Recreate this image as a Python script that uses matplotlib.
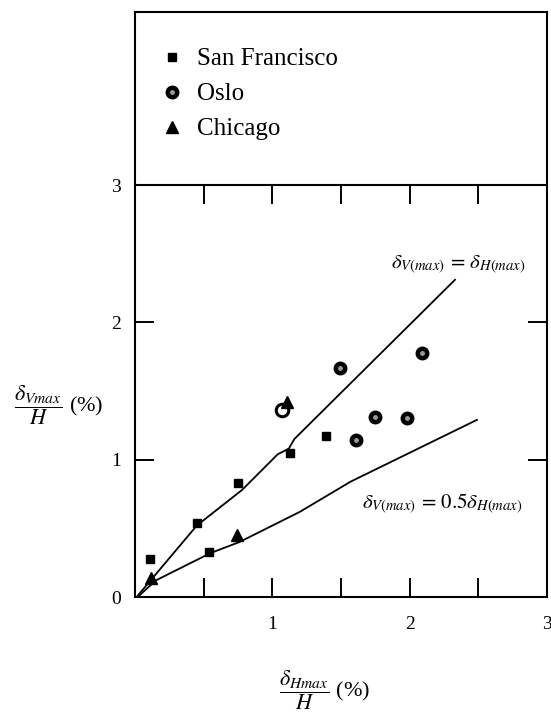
import matplotlib
matplotlib.use("Agg")
import matplotlib.pyplot as plt
from matplotlib.legend_handler import HandlerTuple

plt.rcParams['font.family'] = ['Liberation Serif', 'DejaVu Serif']
plt.rcParams['mathtext.fontset'] = 'stix'

# datos (% de H)
sf_x = [0.11, 0.45, 0.54, 0.75, 1.13, 1.39]
sf_y = [0.28, 0.54, 0.33, 0.83, 1.05, 1.17]

oslo_x = [1.49, 2.09, 1.75, 1.98, 1.61]
oslo_y = [1.67, 1.78, 1.31, 1.30, 1.14]
oslo_open_x = [1.07]
oslo_open_y = [1.36]

chi_x = [1.11, 0.74, 0.12]
chi_y = [1.42, 0.45, 0.14]

# retas desenhadas a mao
sup_x = [0.02, 0.45, 0.78, 1.04, 1.12, 1.16, 2.33]
sup_y = [0.01, 0.52, 0.78, 1.04, 1.08, 1.15, 2.31]
inf_x = [0.02, 0.15, 0.55, 0.76, 1.20, 1.57, 2.49]
inf_y = [0.00, 0.12, 0.32, 0.40, 0.62, 0.84, 1.29]

ticks_menores = [0.5, 1.0, 1.5, 2.0, 2.5]

fig = plt.figure(figsize=(5.51, 7.12), dpi=100)
ax = fig.add_axes([135 / 551, 115 / 712, 412 / 551, 585 / 712])
ax.set_xlim(0, 3)
ax.set_ylim(0, 4.26)
ax.xaxis.remove_overlapping_locs = False
ax.yaxis.remove_overlapping_locs = False

for s in ax.spines.values():
    s.set_linewidth(1.5)

# linha que separa a legenda
ax.axhline(3, color='black', lw=1.5)
ax.vlines(ticks_menores, 3 - 0.14, 3, color='black', lw=1.4)

ax.plot(sup_x, sup_y, color='black', lw=1.3)
ax.plot(inf_x, inf_y, color='black', lw=1.3)

h_sf, = ax.plot(sf_x, sf_y, 's', color='black', ms=5.5, ls='none')
h_oslo, = ax.plot(oslo_x, oslo_y, 'o', color='black', ms=9, ls='none')
h_dot, = ax.plot(oslo_x, oslo_y, 'o', color='#999999', ms=2.5, ls='none')
ax.plot(oslo_open_x, oslo_open_y, 'o', mfc='white', mec='black', mew=2.2, ms=9, ls='none')
h_chi, = ax.plot(chi_x, chi_y, '^', color='black', ms=8, ls='none')

ax.set_xticks([1, 2, 3])
ax.set_xticklabels(['1', '2', '3'])
ax.set_xticks(ticks_menores, minor=True)
ax.set_yticks([0, 1, 2, 3])
ax.set_yticklabels(['0', '1', '2', '3'])
ax.set_yticks([1, 2], minor=True)
ax.tick_params(which='major', length=0, labelsize=14)
ax.tick_params(axis='x', which='major', pad=14)
ax.tick_params(axis='y', which='major', pad=10)
ax.tick_params(axis='x', which='minor', direction='in', length=14, width=1.4,
               bottom=True, top=False, labelbottom=False)
ax.tick_params(axis='y', which='minor', direction='in', length=14, width=1.4,
               left=True, right=True, labelleft=False)

leg = ax.legend([h_sf, (h_oslo, h_dot), h_chi], ['San Francisco', 'Oslo', 'Chicago'],
                handler_map={tuple: HandlerTuple(ndivide=1)},
                loc='upper left', bbox_to_anchor=(0.005, 0.977), frameon=False,
                fontsize=18, handlelength=1.0, handletextpad=0.5, labelspacing=0.5)

ax.text(2.35, 2.42, r'$\delta_{V(max)}\,=\,\delta_{H(max)}$', fontsize=15,
        ha='center', va='center')
ax.text(2.24, 0.68, r'$\delta_{V(max)}\,=\,0.5\delta_{H(max)}$', fontsize=15,
        ha='center', va='center')

fig.text(59 / 551, 1 - 405 / 712, r'$\dfrac{\delta_{Vmax}}{H}$ (%)', fontsize=16,
         ha='center', va='center')
fig.text(325 / 551, 1 - 690 / 712, r'$\dfrac{\delta_{Hmax}}{H}$ (%)', fontsize=16,
         ha='center', va='center')

fig.savefig('out.png', dpi=100)
